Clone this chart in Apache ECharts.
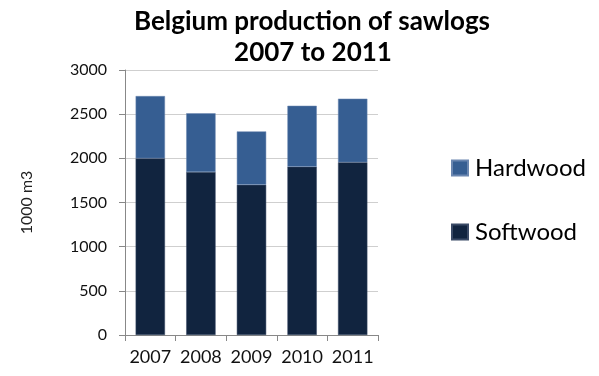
<!DOCTYPE html>
<html><head><meta charset="utf-8">
<script src="https://cdn.jsdelivr.net/npm/echarts@6/dist/echarts.min.js"></script>
<style>html,body{margin:0;padding:0;background:#fff}#c{width:599px;height:376px}</style>
</head><body><div id="c"></div>
<script>
const categories = ['2007','2008','2009','2010','2011'];
const softwood = [2000, 1845, 1700, 1905, 1955];
const hardwood = [705, 665, 605, 690, 720];
const yTicks = [0, 500, 1000, 1500, 2000, 2500, 3000];

const chart = echarts.init(document.getElementById('c'));
chart.setOption({
  animation: false,
  backgroundColor: '#fff',
  graphic: [
    {type: 'text', x: 312, y: 22, style: {text: 'Belgium production of sawlogs', font: 'bold 26px Lato', fill: '#000', textAlign: 'center', textVerticalAlign: 'middle'}},
    {type: 'text', x: 313, y: 53, style: {text: '2007 to 2011', font: 'bold 26px Lato', fill: '#000', textAlign: 'center', textVerticalAlign: 'middle'}}
  ],
  legend: {
    orient: 'vertical', left: 446, top: 151, itemGap: 40,
    itemWidth: 16, itemHeight: 15, icon: 'rect',
    data: ['Hardwood', 'Softwood'],
    textStyle: {fontFamily: 'Lato', fontSize: 24, color: '#000', padding: [0,0,0,2]}
  },
  grid: {left: 125, right: 221, top: 70, bottom: 41},
  xAxis: {
    type: 'category', data: categories,
    axisLine: {lineStyle: {color: '#888'}},
    axisTick: {show: true, length: 6, lineStyle: {color: '#888'}},
    axisLabel: {fontFamily: 'Lato', fontSize: 18, color: '#111', margin: 13, interval: 0, hideOverlap: false}
  },
  yAxis: {
    type: 'value', min: yTicks[0], max: yTicks[yTicks.length-1], interval: 500,
    name: '1000 m3', nameLocation: 'middle', nameGap: 90, nameRotate: 90,
    nameTextStyle: {fontFamily: 'Lato', fontSize: 16, color: '#222'},
    axisLine: {show: true, lineStyle: {color: '#888'}},
    axisTick: {show: true, length: 6, lineStyle: {color: '#888'}},
    axisLabel: {fontFamily: 'Lato', fontSize: 16, color: '#111', margin: 18, formatter: v => String(v)},
    splitLine: {lineStyle: {color: '#cfcfcf'}}
  },
  series: [
    {name: 'Softwood', type: 'bar', stack: 's', data: softwood, barWidth: '58%',
     itemStyle: {color: '#11243f', borderColor: '#3a4a66', borderWidth: 0.5}},
    {name: 'Hardwood', type: 'bar', stack: 's', data: hardwood, barWidth: '58%',
     itemStyle: {color: '#365e92', borderColor: '#6a86b0', borderWidth: 0.5}}
  ]
});
</script></body></html>
